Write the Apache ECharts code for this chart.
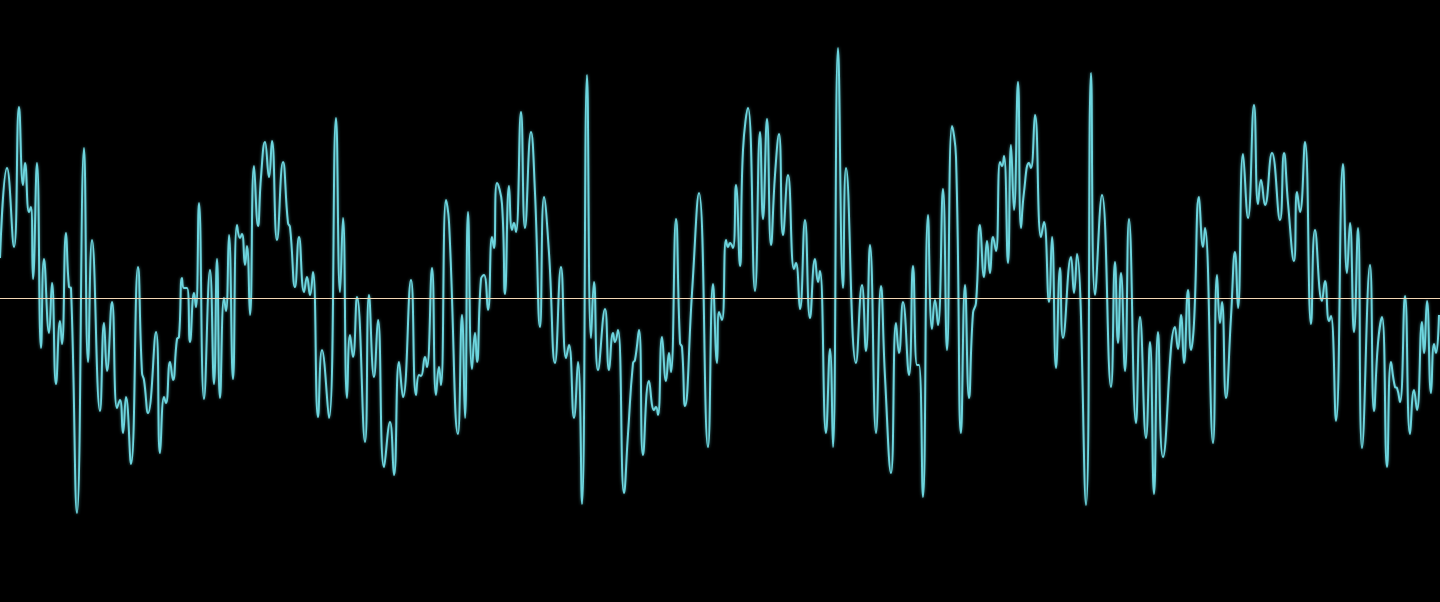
<!DOCTYPE html>
<html>
<head>
<meta charset="utf-8">
<script src="https://cdn.jsdelivr.net/npm/echarts@6/dist/echarts.min.js"></script>
<style>
html,body{margin:0;padding:0;background:#000;}
#main{width:1440px;height:602px;}
</style>
</head>
<body>
<div id="main"></div>
<script>
// Sample positions (time index) and amplitude
const sampleTime = [
0,7,14,19,23,25,29,31,33,37,41,44,49,52,56,60,62,66,69,71,77,84,88,92,100,104,107,112,117,120,
123,126,131,138,142,144,148,156,160,164,166,170,173,177,179,182,184,187,190,194,196,199,204,210,214,217,220,224,226,229,
233,237,240,242,245,247,250,254,258,261,265,269,272,277,283,288,290,295,299,304,307,310,313,318,322,329,336,340,343,347,
350,353,357,365,369,374,378,384,390,394,399,403,411,416,419,421,425,427,432,436,439,441,446,449,458,462,465,468,472,475,
477,481,484,488,492,494,497,502,505,509,512,514,516,521,525,531,535,540,544,549,555,561,566,569,574,578,582,587,591,594,
598,605,609,613,615,618,624,628,633,635,639,643,649,654,656,658,662,666,669,671,676,680,682,685,692,699,708,713,717,719,
722,726,728,730,733,736,740,743,748,755,760,763,767,771,775,779,783,788,794,796,800,805,810,815,818,820,826,830,833,838,
843,846,856,862,866,870,876,881,885,891,896,899,903,909,913,917,919,923,928,932,935,938,943,947,952,956,961,965,969,973,
976,980,984,987,990,993,996,1000,1002,1004,1008,1011,1014,1018,1021,1024,1029,1031,1035,1041,1044,1049,1052,1056,1060,1063,1071,1074,1077,1086,
1091,1095,1102,1111,1115,1118,1121,1125,1129,1136,1140,1146,1150,1154,1158,1163,1175,1178,1181,1184,1188,1191,1194,1199,1203,1205,1213,1217,1220,1222,
1226,1231,1235,1238,1243,1248,1254,1258,1261,1265,1272,1280,1284,1288,1294,1297,1300,1305,1311,1315,1322,1325,1329,1331,1336,1343,1347,1350,1354,1358,
1362,1370,1374,1378,1382,1387,1391,1395,1397,1400,1405,1410,1414,1417,1422,1424,1427,1431,1434,1436,1439
];
const amplitude = [
40,130,51,191,113,135,86,91,19,135,-50,39,-35,15,-86,-23,-46,65,11,10,-215,150,-64,58,-113,-25,-73,-4,-110,-102,
-135,-99,-166,31,-75,-82,-115,-34,-155,-99,-105,-64,-82,-41,-39,20,10,10,-44,5,-9,95,-101,28,-86,39,-100,0,-13,63,
-81,73,60,64,33,52,-17,132,72,121,156,121,157,58,136,75,71,11,61,6,21,3,26,-119,-52,-120,180,6,80,-100,
-37,-59,1,-144,3,-79,-22,-169,-124,-177,-64,-99,18,-97,-77,-78,-59,-69,30,-97,-69,-87,98,76,-136,-17,-120,86,-71,-35,
-64,19,23,-12,61,50,115,94,4,112,68,75,66,186,70,166,105,-29,101,45,-65,31,-60,-47,-120,-64,-206,223,-40,16,
-72,-11,-72,-35,-44,-32,-195,-136,-65,-62,-32,-157,-83,-112,-109,-117,-39,-83,-55,-74,79,-45,-49,-108,5,105,-149,14,-65,-14,
-22,58,51,55,50,113,32,148,190,7,166,79,179,53,123,164,63,123,29,35,-11,78,-20,39,16,27,-135,-51,-149,250,
10,130,-65,13,-53,53,-135,12,-79,-175,-25,-55,-4,-77,32,-67,-67,-199,83,-31,-2,-27,109,-52,172,141,-135,13,-100,-15,
-5,73,21,57,25,61,47,136,132,142,35,153,88,216,70,106,135,130,183,61,76,-4,61,-70,30,-40,41,5,44,-207,
225,3,103,-89,36,-45,25,-73,79,-125,-19,-140,-44,-196,-34,-159,-29,-51,-17,-65,8,-52,-25,101,51,70,-145,23,-25,-4,
-100,-19,46,-10,144,80,193,94,118,93,145,78,145,95,37,106,86,156,-26,68,-3,17,-23,-18,-123,134,25,75,-34,70,
-150,33,-113,-45,-19,-169,-64,-89,-90,-104,2,-136,-92,-112,-24,-55,-3,-95,-46,-55,-17
];
const xRange = [0, 1440];
const yRange = [-304, 298];

const seriesData = sampleTime.map((t, i) => [t, amplitude[i]]);

const chart = echarts.init(document.getElementById('main'));
chart.setOption({
  backgroundColor: '#000000',
  animation: false,
  grid: { left: 0, right: 0, top: 0, bottom: 0 },
  xAxis: {
    type: 'value',
    min: xRange[0],
    max: xRange[1],
    z: 10,
    axisLine: { show: true, onZero: true, lineStyle: { color: '#f2d6b4', width: 1 } },
    axisTick: { show: false },
    axisLabel: { show: false },
    splitLine: { show: false }
  },
  yAxis: {
    type: 'value',
    min: yRange[0],
    max: yRange[1],
    show: false,
    splitLine: { show: false }
  },
  series: [{
    type: 'line',
    data: seriesData,
    smooth: true,
    showSymbol: false,
    lineStyle: {
      color: '#6dd5de',
      width: 2,
      shadowColor: 'rgba(109,213,222,0.6)',
      shadowBlur: 3
    }
  }]
});
</script>
</body>
</html>
